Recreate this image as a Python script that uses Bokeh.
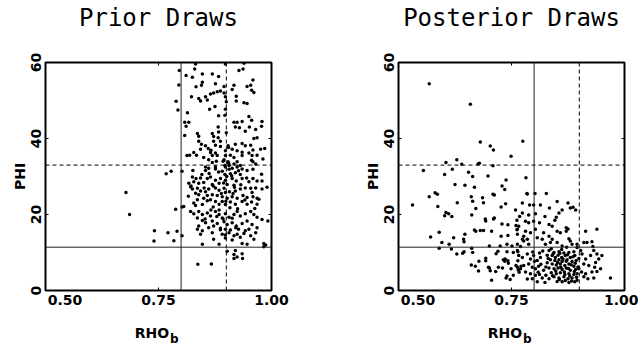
from bokeh.plotting import figure
from bokeh.layouts import row
from bokeh.models import Span, FixedTicker, LinearAxis, Range1d
from bokeh.embed import file_html
from bokeh.resources import INLINE

# ---------------- data ----------------
prior_rho = [
    0.678, 0.686, 0.741, 0.740, 0.771, 0.784, 0.791, 0.802, 0.788, 0.802, 0.767, 0.778, 0.802,
    0.789, 0.793, 0.795, 0.796, 0.837, 0.867,
    0.832, 0.830, 0.811, 0.825, 0.847, 0.869, 0.883, 0.928, 0.937, 0.939, 0.898, 0.847, 0.845,
    0.833, 0.876, 0.895, 0.917, 0.959, 0.946, 0.954, 0.956, 0.961, 0.823, 0.839, 0.843, 0.854,
    0.858, 0.865, 0.872, 0.880, 0.887, 0.895, 0.898, 0.900, 0.913, 0.922, 0.922, 0.939, 0.946,
    0.863, 0.875, 0.898, 0.814, 0.883, 0.897, 0.808, 0.817, 0.811, 0.808, 0.836, 0.839, 0.869,
    0.882, 0.883, 0.882, 0.900, 0.917, 0.924, 0.935, 0.950, 0.956, 0.979, 0.978, 0.920, 0.929,
    0.951, 0.942, 0.965, 0.961, 0.968, 0.872, 0.872, 0.876, 0.845, 0.839, 0.854, 0.843, 0.860,
    0.887, 0.887, 0.904, 0.920, 0.935, 0.942, 0.954, 0.959, 0.976, 0.985, 0.913, 0.924, 0.828,
    0.819, 0.834, 0.813, 0.865, 0.876, 0.869, 0.880, 0.898, 0.898, 0.909, 0.917, 0.935, 0.950,
    0.957, 0.968, 0.981, 0.895, 0.904, 0.869, 0.861, 0.850, 0.917, 0.924, 0.931, 0.897, 0.906,
    0.959, 0.965, 0.854, 0.876,
    0.898, 0.906, 0.913, 0.924, 0.935, 0.891, 0.897, 0.909, 0.920, 0.931, 0.946, 0.959, 0.876,
    0.854, 0.861, 0.825, 0.833, 0.843, 0.858, 0.865, 0.876, 0.887, 0.898, 0.913, 0.922, 0.935,
    0.950, 0.959, 0.968, 0.979, 0.817, 0.828, 0.839, 0.850, 0.869, 0.884, 0.902, 0.917,
    0.821, 0.825, 0.836, 0.843, 0.839, 0.832, 0.854, 0.861, 0.876, 0.884, 0.895, 0.898, 0.907,
    0.920, 0.931, 0.942, 0.954, 0.965, 0.979, 0.869, 0.880, 0.891, 0.902, 0.913, 0.924, 0.937,
    0.946, 0.959, 0.968, 0.850, 0.858, 0.865, 0.876, 0.884, 0.891, 0.898, 0.909, 0.920, 0.935,
    0.946, 0.956, 0.968, 0.828, 0.836, 0.847, 0.806,
    0.821, 0.828, 0.839, 0.847, 0.858, 0.865, 0.876, 0.884, 0.891, 0.898, 0.906, 0.917, 0.924,
    0.931, 0.942, 0.954, 0.961, 0.968, 0.836, 0.847, 0.854, 0.869, 0.880, 0.895, 0.902, 0.913,
    0.922, 0.935, 0.946, 0.957, 0.979, 0.839, 0.836, 0.861, 0.872, 0.887, 0.898, 0.909, 0.927,
    0.942, 0.950, 0.968, 0.847,
    0.843, 0.869, 0.891, 0.906, 0.917, 0.924, 0.939, 0.954, 0.965, 0.872, 0.898, 0.913, 0.931,
    0.961, 0.847, 0.884, 0.935, 0.946, 0.983, 0.983,
    0.902, 0.920, 0.917, 0.924, 0.935, 0.917, 0.936,
    0.862, 0.871, 0.883, 0.894, 0.905, 0.912, 0.918, 0.927, 0.889, 0.899, 0.908, 0.884, 0.871,
    0.858, 0.851, 0.846, 0.893, 0.901, 0.915, 0.932, 0.941, 0.925, 0.913, 0.893, 0.879, 0.866,
    0.853, 0.898, 0.887, 0.921, 0.945, 0.957, 0.963, 0.972, 0.978, 0.990, 0.992, 0.987, 0.956,
    0.935, 0.905, 0.878, 0.866, 0.822, 0.816, 0.826, 0.832,
]
prior_phi = [
    25.8, 20.0, 15.7, 13.0, 15.2, 13.1, 15.6, 14.4, 21.4, 22.0, 30.7, 31.4, 31.4,
    49.8, 47.5, 54.1, 57.9, 6.9, 7.0,
    59.6, 58.3, 56.6, 56.1, 57.0, 57.0, 56.3, 57.9, 58.3, 59.8, 59.6, 54.8, 54.0,
    53.6, 54.4, 53.7, 54.0, 55.4, 53.7, 54.0, 52.7, 52.1, 51.0, 50.5, 49.9, 51.0,
    50.1, 51.7, 52.0, 52.3, 52.5, 52.0, 51.0, 49.7, 52.9, 51.1, 49.9, 49.4, 49.2,
    47.7, 48.4, 47.7, 46.8, 46.0, 46.1, 44.3, 44.3, 43.2, 40.8, 41.3, 40.6, 41.3,
    43.0, 41.7, 40.2, 41.5, 44.3, 44.3, 44.5, 45.8, 44.8, 44.5, 43.2, 43.0, 42.8,
    43.0, 41.9, 42.4, 40.0, 40.2, 40.5, 39.3, 38.2, 38.5, 39.3, 38.1, 37.2, 37.4,
    39.3, 37.9, 38.1, 38.5, 38.7, 38.1, 38.2, 37.0, 37.2, 37.4, 37.2, 36.8, 36.3,
    35.6, 35.6, 35.5, 36.3, 36.2, 35.5, 35.5, 35.5, 36.8, 35.6, 35.0, 35.5, 36.2,
    35.5, 35.6, 34.6, 34.4, 33.9, 33.7, 34.4, 35.0, 33.3, 33.9, 32.9, 32.9, 32.9,
    33.9, 33.3, 32.5, 32.5,
    32.5, 31.9, 32.2, 32.5, 32.0, 31.4, 30.5, 30.7, 31.0, 30.5, 31.6, 31.9, 32.0,
    31.6, 32.2, 29.9, 29.5, 29.6, 29.5, 29.9, 29.0, 29.5, 29.0, 29.5, 28.8, 29.5,
    28.6, 29.5, 28.8, 28.8, 28.2, 28.6, 28.2, 28.4, 27.9, 28.2, 27.9, 27.7,
    27.3, 26.7, 26.9, 26.2, 25.2, 25.6, 26.0, 26.7, 27.0, 26.4, 26.9, 25.8, 26.0,
    26.2, 26.7, 27.0, 26.9, 27.0, 26.7, 25.2, 25.0, 24.7, 24.3, 24.7, 24.3, 25.0,
    24.5, 24.7, 24.3, 24.3, 23.6, 23.9, 23.4, 22.7, 23.4, 22.6, 23.3, 22.7, 23.4,
    22.7, 23.3, 22.7, 23.0, 23.9, 22.6, 22.1,
    20.8, 20.2, 20.8, 20.0, 20.4, 19.6, 20.8, 20.0, 19.1, 20.2, 19.3, 20.0, 20.8,
    19.6, 20.2, 20.8, 20.0, 19.3, 19.1, 18.4, 17.8, 18.3, 17.6, 18.1, 17.4, 17.8,
    17.0, 17.6, 18.3, 17.4, 18.7, 17.0, 16.1, 16.5, 17.0, 16.4, 16.1, 15.9, 16.1,
    15.7, 16.1, 16.5, 15.7,
    14.8, 15.2, 14.8, 15.2, 14.4, 14.8, 15.0, 14.4, 15.2, 13.5, 13.8, 13.3, 14.0,
    13.5, 12.2, 12.2, 12.4, 12.2, 12.4, 11.5,
    10.3, 10.5, 9.5, 8.8, 9.7, 8.4, 8.4,
    30.8, 27.5, 31.2, 28.3, 33.5, 30.2, 27.2, 31.5, 25.5, 23.5, 21.8, 21.2, 22.0,
    25.0, 27.0, 30.5, 34.0, 30.0, 25.5, 27.8, 23.8, 21.5, 19.0, 18.8, 19.5, 21.2,
    18.8, 14.6, 16.0, 16.5, 29.6, 25.8, 21.6, 24.0, 30.6, 27.2, 18.3, 12.0, 34.3,
    36.4, 37.6, 34.0, 36.9, 27.5, 24.8, 31.6, 22.4,
]

post_rho = [
    0.568, 0.659, 0.681, 0.703, 0.710, 0.775, 0.749, 0.605, 0.629, 0.640, 0.676, 0.679, 0.709,
    0.555, 0.619, 0.602, 0.655, 0.664, 0.698, 0.782, 0.738, 0.625, 0.647, 0.668, 0.729, 0.735,
    0.568, 0.581, 0.586, 0.661, 0.664, 0.709, 0.712, 0.686, 0.688, 0.784, 0.531, 0.587, 0.630,
    0.671, 0.737, 0.727, 0.605, 0.611, 0.602, 0.618, 0.662, 0.759, 0.692, 0.693, 0.712, 0.710,
    0.729, 0.742, 0.762, 0.760, 0.571, 0.590, 0.622, 0.647, 0.668, 0.671, 0.681, 0.688, 0.706,
    0.727, 0.742, 0.762, 0.774, 0.596, 0.612, 0.644, 0.645, 0.701, 0.725, 0.740, 0.751, 0.590,
    0.617, 0.662, 0.629, 0.642, 0.645, 0.664, 0.720, 0.716, 0.740, 0.754, 0.764, 0.661, 0.670,
    0.678, 0.693, 0.693, 0.677, 0.701, 0.703, 0.699, 0.706, 0.715, 0.721, 0.732, 0.736, 0.742,
    0.735, 0.743, 0.730, 0.740, 0.738, 0.749, 0.747, 0.754, 0.760, 0.764, 0.765, 0.767, 0.771,
    0.785, 0.802, 0.827, 0.851, 0.875, 0.880, 0.886, 0.892, 0.774, 0.790, 0.799, 0.814, 0.834,
    0.862, 0.774, 0.788, 0.803, 0.824, 0.855, 0.849, 0.846, 0.768, 0.781, 0.788, 0.799, 0.812,
    0.833, 0.840, 0.871, 0.875, 0.871, 0.766, 0.763, 0.781, 0.792, 0.803, 0.821, 0.851, 0.858,
    0.763, 0.777, 0.785, 0.777, 0.807, 0.818, 0.833, 0.840, 0.836, 0.851, 0.877, 0.880, 0.884,
    0.895, 0.914, 0.939, 0.910, 0.917, 0.928, 0.930, 0.763, 0.770, 0.788, 0.825, 0.862, 0.895,
    0.932, 0.925, 0.939, 0.950, 0.943, 0.936, 0.921, 0.934, 0.939, 0.947, 0.928, 0.914, 0.919,
    0.932, 0.910, 0.969, 0.903, 0.906, 0.914, 0.910, 0.899, 0.905,
    0.833, 0.844, 0.855, 0.866, 0.877, 0.888, 0.829, 0.840, 0.847, 0.853, 0.861, 0.869, 0.880,
    0.890, 0.836, 0.846, 0.855, 0.862, 0.873, 0.884, 0.893, 0.829, 0.840, 0.849, 0.858, 0.868,
    0.877, 0.888, 0.833, 0.844, 0.853, 0.862, 0.871, 0.880, 0.892, 0.838, 0.849, 0.858, 0.868,
    0.877, 0.888, 0.895, 0.844, 0.855, 0.866, 0.875, 0.884, 0.895, 0.851, 0.833, 0.862, 0.877,
    0.890,
    0.763, 0.766, 0.774, 0.785, 0.792, 0.799, 0.807, 0.814, 0.763, 0.770, 0.777, 0.788, 0.796,
    0.803, 0.810, 0.821, 0.781, 0.792, 0.803, 0.812, 0.818, 0.796, 0.807, 0.824, 0.785,
    0.826, 0.831, 0.842, 0.848, 0.852, 0.857, 0.859, 0.864, 0.867, 0.871, 0.874, 0.876, 0.879,
    0.882, 0.886, 0.889, 0.891, 0.894, 0.897, 0.899, 0.841, 0.856, 0.869, 0.883, 0.838, 0.861,
    0.872, 0.819, 0.815, 0.809, 0.826, 0.801, 0.797, 0.812,
]
post_phi = [
    54.4, 49.0, 39.1, 38.0, 37.0, 39.3, 35.3, 33.7, 34.4, 33.2, 33.3, 33.5, 32.8,
    31.6, 31.9, 30.5, 31.1, 30.0, 30.1, 29.7, 29.1, 27.9, 27.7, 27.2, 27.5, 26.6,
    24.7, 25.7, 25.3, 24.7, 23.5, 25.3, 25.1, 24.4, 23.1, 25.5, 22.5, 22.1, 23.1,
    21.6, 22.8, 22.0, 20.5, 20.2, 19.7, 19.5, 19.9, 21.2, 18.8, 18.3, 19.1, 18.8,
    17.5, 17.3, 18.5, 17.1, 14.1, 15.3, 13.9, 14.8, 15.9, 15.6, 15.8, 15.8, 15.6,
    14.3, 14.5, 16.0, 13.5, 12.6, 12.2, 13.5, 12.8, 11.7, 11.7, 12.2, 11.7, 11.1,
    10.9, 11.1, 9.6, 9.8, 10.2, 10.0, 10.3, 9.7, 10.2, 10.0, 10.2, 6.7, 6.4,
    7.7, 8.5, 7.8, 5.1, 5.9, 5.2, 6.1, 2.7, 5.0, 6.1, 8.1, 8.3, 7.8,
    7.7, 7.2, 5.9, 3.8, 3.3, 5.7, 2.9, 4.0, 6.6, 7.8, 5.4, 4.8, 6.4,
    25.4, 25.5, 25.5, 23.4, 23.0, 21.7, 21.9, 21.2, 23.0, 22.5, 22.5, 22.5, 21.7,
    21.2, 20.4, 19.9, 20.2, 19.5, 20.4, 19.3, 18.5, 19.5, 18.2, 17.8, 18.2, 17.8,
    17.4, 16.9, 16.5, 16.2, 15.6, 16.9, 16.1, 15.6, 15.2, 16.1, 15.2, 15.6, 15.2,
    14.8, 14.3, 13.5, 13.0, 13.9, 13.5, 14.3, 13.5, 12.6, 12.6, 13.6, 13.0, 12.2,
    12.2, 15.6, 16.1, 12.6, 12.6, 12.8, 11.6, 12.2, 11.6, 12.2, 12.2, 11.7, 11.3,
    10.5, 9.2, 9.6, 9.2, 8.3, 7.4, 6.6, 6.1, 5.0, 5.7, 4.9, 4.4, 3.1,
    3.3, 3.6, 3.3, 10.5, 9.6, 8.3, 7.0, 5.7, 4.9,
    10.5, 10.0, 10.2, 9.9, 10.0, 10.2, 9.3, 9.2, 8.7, 9.3, 8.7, 9.2, 8.7,
    9.2, 8.1, 7.9, 8.1, 7.6, 8.1, 7.6, 7.9, 7.3, 7.0, 6.7, 7.0, 6.6,
    7.0, 6.4, 5.9, 5.7, 5.9, 5.5, 5.9, 5.3, 5.5, 4.7, 4.4, 4.7, 4.2,
    4.4, 4.2, 4.4, 3.6, 3.3, 3.6, 3.1, 3.3, 2.7, 2.4, 3.1, 2.3, 2.1,
    2.3,
    10.5, 9.2, 8.7, 9.6, 8.3, 9.2, 7.9, 8.7, 6.1, 5.7, 6.6, 7.0, 6.1,
    5.7, 6.4, 5.3, 4.9, 4.4, 4.0, 4.2, 3.3, 3.1, 2.3, 2.1, 3.0,
    6.2, 8.4, 9.6, 5.1, 7.4, 9.8, 6.1, 8.3, 4.9, 7.7, 9.4, 5.8, 3.8,
    6.8, 8.9, 5.0, 7.2, 3.5, 6.2, 8.4, 3.9, 2.9, 2.6, 2.5, 11.0, 10.8,
    11.4, 10.4, 6.9, 4.8, 4.0, 7.7, 10.1, 9.9,
]

x_ticks = [0.50, 0.75, 1.00]
x_tick_labels = ["0.50", "0.75", "1.00"]
y_ticks = [0, 20, 40, 60]
rho_solid, rho_dashed = 0.80, 0.90
phi_solid, phi_dashed = 11.4, 33.0
titles = ["Prior Draws", "Posterior Draws"]
x_title, x_title_sub, y_title = "RHO", "b", "PHI"

# ---------------- styling ----------------
FRAME_W, FRAME_H = 226, 232
FIG_H = 348
B_LEFT, B_TOP = 45, 60
FONT = "DejaVu Sans"
FIRST_LABEL_NUDGE = 0.043      # first x tick label drawn inset, as in the original
XLABEL_POS, XSUB_POS = 0.7356, 0.785   # where the x-axis title pieces sit along the axis


def styled_axis(ax, size="14px"):
    ax.axis_line_color = None
    ax.major_label_text_font = FONT
    ax.major_label_text_font_style = "bold"
    ax.major_label_text_font_size = size
    ax.major_label_text_color = "black"
    ax.major_tick_line_color = "black"


def make_panel(title, xs, ys, fig_w):
    p = figure(width=fig_w, height=FIG_H,
               x_range=Range1d(0.5, 1.0), y_range=Range1d(0, 60),
               output_backend="svg", toolbar_location=None,
               min_border_left=B_LEFT, min_border_right=fig_w - B_LEFT - FRAME_W,
               min_border_top=B_TOP, min_border_bottom=FIG_H - B_TOP - FRAME_H,
               background_fill_color="white", border_fill_color="white")
    p.grid.visible = False
    p.outline_line_color = "black"
    p.outline_line_width = 2

    # x axis (tick labels)
    pos = [round(x_ticks[0] + FIRST_LABEL_NUDGE, 3)] + x_ticks[1:]
    xa = p.xaxis[0]
    styled_axis(xa)
    xa.ticker = FixedTicker(ticks=pos, minor_ticks=[0.75])
    xa.major_label_overrides = {k: v for k, v in zip(pos, x_tick_labels)}
    xa.major_tick_in = 0
    xa.major_tick_out = 0
    xa.minor_tick_in = 3
    xa.minor_tick_out = 0
    xa.minor_tick_line_color = "black"
    xa.major_label_standoff = 4

    # x axis title "RHO" with subscript "b"
    xt = LinearAxis(ticker=FixedTicker(ticks=[XLABEL_POS]),
                    major_label_overrides={XLABEL_POS: x_title},
                    major_tick_out=0, minor_tick_out=0, major_label_standoff=17)
    styled_axis(xt)
    xt.major_tick_line_color = None
    xt.minor_tick_line_color = None
    p.add_layout(xt, "below")
    xs_ax = LinearAxis(ticker=FixedTicker(ticks=[XSUB_POS]),
                       major_label_overrides={XSUB_POS: x_title_sub},
                       major_tick_out=0, minor_tick_out=0, major_label_standoff=-12)
    styled_axis(xs_ax, "12px")
    xs_ax.major_tick_line_color = None
    xs_ax.minor_tick_line_color = None
    p.add_layout(xs_ax, "below")

    # y axis
    ya = p.yaxis[0]
    styled_axis(ya)
    ya.ticker = FixedTicker(ticks=y_ticks)
    ya.major_tick_in = 3
    ya.major_tick_out = 0
    ya.minor_tick_line_color = None
    ya.major_label_orientation = "vertical"
    ya.major_label_standoff = 5
    ya.axis_label = y_title
    ya.axis_label_standoff = 0
    ya.axis_label_text_font = FONT
    ya.axis_label_text_font_style = "bold"
    ya.axis_label_text_font_size = "14px"
    ya.axis_label_text_color = "black"

    # mirrored inside ticks on the right
    ra = LinearAxis(ticker=FixedTicker(ticks=y_ticks), major_tick_in=3, major_tick_out=0,
                    minor_tick_line_color=None, minor_tick_out=0, axis_line_color=None,
                    major_label_text_color=None, major_label_standoff=0)
    p.add_layout(ra, "right")
    # top axis: inside tick, and carries the panel title
    ta = LinearAxis(ticker=FixedTicker(ticks=[0.75]), major_tick_in=3, major_tick_out=0,
                    minor_tick_line_color=None, minor_tick_out=0, axis_line_color=None,
                    major_label_text_color=None, major_label_standoff=0,
                    axis_label=title, axis_label_standoff=31,
                    axis_label_text_font="DejaVu Sans Mono",
                    axis_label_text_font_size="24px",
                    axis_label_text_font_style="normal",
                    axis_label_text_color="black")
    p.add_layout(ta, "above")

    # reference lines
    p.add_layout(Span(location=rho_solid, dimension="height", line_color="#222222", line_width=1))
    p.add_layout(Span(location=rho_dashed, dimension="height", line_color="black",
                      line_width=1, line_dash="4 3"))
    p.add_layout(Span(location=phi_solid, dimension="width", line_color="#222222", line_width=1))
    p.add_layout(Span(location=phi_dashed, dimension="width", line_color="black",
                      line_width=1, line_dash="4 3"))

    p.scatter(xs, ys, size=3.5, color="black", line_width=0)
    return p


p1 = make_panel(titles[0], prior_rho, prior_phi, 353)
p2 = make_panel(titles[1], post_rho, post_phi, 285)
layout = row(p1, p2)

open("out.html", "w").write(file_html(layout, INLINE))
